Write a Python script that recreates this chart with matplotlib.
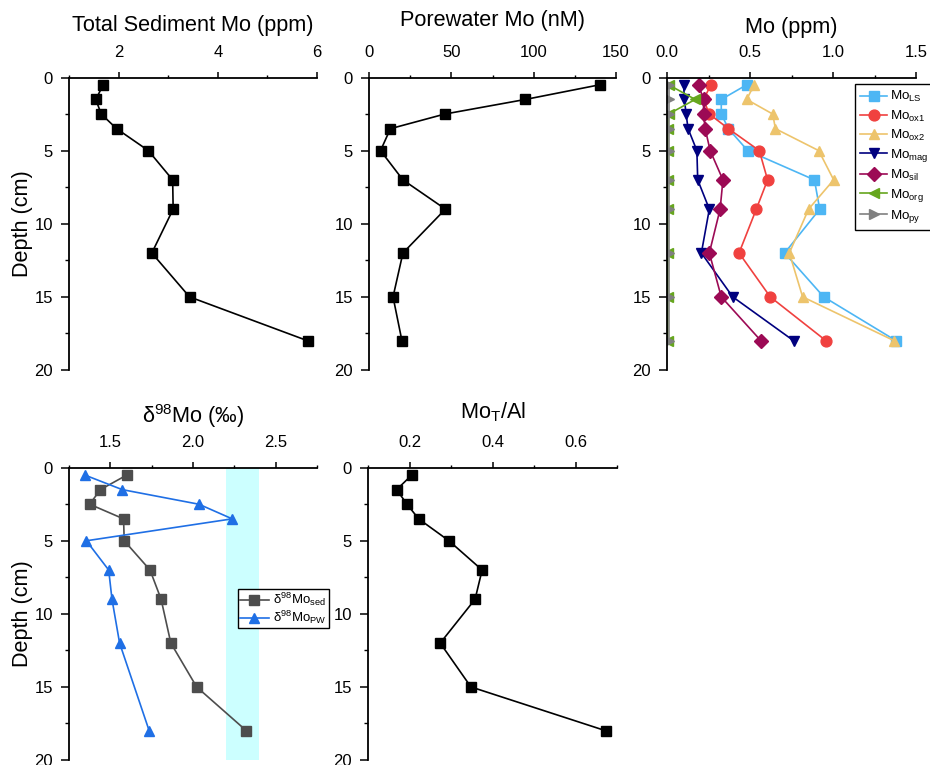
import matplotlib
matplotlib.use("Agg")
import matplotlib.pyplot as plt
from matplotlib.ticker import MultipleLocator, FormatStrFormatter

plt.rcParams['font.family'] = ['Liberation Sans', 'DejaVu Sans']
plt.rcParams['mathtext.fontset'] = 'custom'
plt.rcParams['mathtext.rm'] = 'Liberation Sans'
plt.rcParams['mathtext.it'] = 'Liberation Sans:italic'
plt.rcParams['mathtext.default'] = 'regular'

# ---- data ----
depth = [0.5, 1.5, 2.5, 3.5, 5, 7, 9, 12, 15, 18]
total_mo = [1.69, 1.54, 1.65, 1.96, 2.60, 3.09, 3.10, 2.67, 3.43, 5.81]
pw_mo = [140, 95, 46, 13, 7, 20.6, 46.4, 20.6, 14.6, 20]

mo_ls = [0.48, 0.327, 0.327, 0.37, 0.486, 0.888, 0.92, 0.709, 0.944, 1.38]
mo_ox1 = [0.265, 0.22, 0.255, 0.37, 0.556, 0.606, 0.538, 0.434, 0.622, 0.958]
mo_ox2 = [0.525, 0.48, 0.637, 0.653, 0.914, 1.004, 0.853, 0.737, 0.817, 1.369]
mo_mag = [0.10, 0.105, 0.115, 0.127, 0.18, 0.185, 0.255, 0.207, 0.396, 0.763]
mo_sil = [0.19, 0.22, 0.22, 0.23, 0.26, 0.337, 0.32, 0.255, 0.327, 0.566]
mo_org = [0.01, 0.17, 0.01, 0.005, 0.005, 0.005, 0.005, 0.005, 0.005, 0.005]
mo_py = [0.015, 0.015, 0.015, 0.015, 0.015, 0.015, 0.015, 0.015, 0.015, 0.015]

d98_sed = [1.60, 1.44, 1.375, 1.58, 1.584, 1.74, 1.807, 1.866, 2.022, 2.323]
depth_pw = [0.5, 1.5, 2.5, 3.5, 5, 7, 9, 12, 18]
d98_pw = [1.345, 1.572, 2.036, 2.237, 1.355, 1.49, 1.51, 1.556, 1.735]
seawater_band = (2.2, 2.4)

mo_t_al = [0.2056, 0.169, 0.194, 0.222, 0.295, 0.375, 0.358, 0.274, 0.348, 0.673]

# ---- layout ----
W, H = 930, 765
fig = plt.figure(figsize=(W / 100, H / 100), dpi=100)


def make_ax(x0, x1, ytop, ybot):
    return fig.add_axes([x0 / W, 1 - ybot / H, (x1 - x0) / W, (ybot - ytop) / H])


def style(ax, xlim, xmaj, xmin, fmt=None):
    ax.set_xlim(*xlim)
    ax.set_ylim(20, 0)
    for s in ('right', 'bottom'):
        ax.spines[s].set_visible(False)
    for s in ('left', 'top'):
        ax.spines[s].set_linewidth(1.3)
    ax.xaxis.set_ticks_position('top')
    ax.xaxis.set_label_position('top')
    ax.xaxis.set_major_locator(MultipleLocator(xmaj))
    ax.xaxis.set_minor_locator(MultipleLocator(xmin))
    ax.yaxis.set_major_locator(MultipleLocator(5))
    ax.yaxis.set_minor_locator(MultipleLocator(2.5))
    if fmt:
        ax.xaxis.set_major_formatter(FormatStrFormatter(fmt))
    ax.tick_params(axis='x', which='major', direction='out', length=4,
                   width=1.1, labelsize=12, pad=8.5)
    ax.tick_params(axis='x', which='minor', direction='out', length=2.5, width=1.0)
    ax.tick_params(axis='y', which='major', direction='out', length=5.5,
                   width=1.1, labelsize=12, pad=6)
    ax.tick_params(axis='y', which='minor', direction='out', length=3, width=1.0)
    ax.set_facecolor('none')


def title(ax, text, y):
    ax.text(0.5, y, text, transform=ax.transAxes, ha='center', va='baseline',
            fontsize=15.6)


TOP = (77.5, 370)
BOT = (467.7, 760)

ax1 = make_ax(69, 317, *TOP)
ax2 = make_ax(369, 616, *TOP)
ax3 = make_ax(667, 916, *TOP)
ax4 = make_ax(69, 317, *BOT)
ax5 = make_ax(368, 617, *BOT)

line_kw = dict(lw=1.2, markersize=7.8)

# Total sediment Mo
ax1.plot(total_mo, depth, color='black', marker='s', **line_kw)
style(ax1, (1, 6), 2, 1)
title(ax1, 'Total Sediment Mo (ppm)', 1.158)
ax1.set_ylabel('Depth (cm)', fontsize=15.6, labelpad=1)

# Porewater Mo
ax2.plot(pw_mo, depth, color='black', marker='s', **line_kw)
style(ax2, (0, 150), 50, 25)
title(ax2, 'Porewater Mo (nM)', 1.176)

# Mo fractions
fractions = [
    (mo_ls, '#4DB6F4', 's', 'Mo$_{LS}$'),
    (mo_ox1, '#F0413F', 'o', 'Mo$_{ox1}$'),
    (mo_ox2, '#EDC46C', '^', 'Mo$_{ox2}$'),
    (mo_mag, '#00007F', 'v', 'Mo$_{mag}$'),
    (mo_sil, '#9C0A55', 'D', 'Mo$_{sil}$'),
    (mo_org, '#66A61E', '<', 'Mo$_{org}$'),
    (mo_py, '#808080', '>', 'Mo$_{py}$'),
]
for vals, col, mk, lab in fractions:
    ms = 6.8 if mk == 'D' else 7.8
    ax3.plot(vals, depth, color=col, marker=mk, lw=1.2, markersize=ms, label=lab)
style(ax3, (0, 1.5), 0.5, 0.25, '%.1f')
title(ax3, 'Mo (ppm)', 1.153)
leg3 = ax3.legend(loc='upper left', bbox_to_anchor=(855 / W, 1 - 84 / H),
                  bbox_transform=fig.transFigure, fontsize=9.6, frameon=True,
                  fancybox=False, edgecolor='black', framealpha=1,
                  handlelength=2.0, handletextpad=0.25, labelspacing=0.3,
                  borderpad=0.4, borderaxespad=0)
leg3.get_frame().set_linewidth(1.0)

# Mo isotopes
ax4.axvspan(*seawater_band, ymin=0, ymax=1, color='#CCFFFF', lw=0, zorder=0)
ax4.plot(d98_sed, depth, color='#4D4D4D', marker='s', label='δ$^{98}$Mo$_{sed}$', **line_kw)
ax4.plot(d98_pw, depth_pw, color='#1F6FE5', marker='^', label='δ$^{98}$Mo$_{PW}$', **line_kw)
style(ax4, (1.25, 2.75), 0.5, 0.25, '%.1f')
title(ax4, 'δ$^{98}$Mo (‰)', 1.152)
ax4.set_ylabel('Depth (cm)', fontsize=15.6, labelpad=1)
leg4 = ax4.legend(loc='upper left', bbox_to_anchor=(238 / W, 1 - 589 / H),
                  bbox_transform=fig.transFigure, fontsize=9.5, frameon=True,
                  fancybox=False, edgecolor='black', framealpha=1,
                  handlelength=2.2, handletextpad=0.3, labelspacing=0.05,
                  borderpad=0.15, borderaxespad=0)
leg4.get_frame().set_linewidth(1.0)

# Mo_T / Al
ax5.plot(mo_t_al, depth, color='black', marker='s', **line_kw)
style(ax5, (0.1, 0.7), 0.2, 0.1, '%.1f')
title(ax5, 'Mo$_T$/Al', 1.169)

fig.savefig('out.png', dpi=100)
